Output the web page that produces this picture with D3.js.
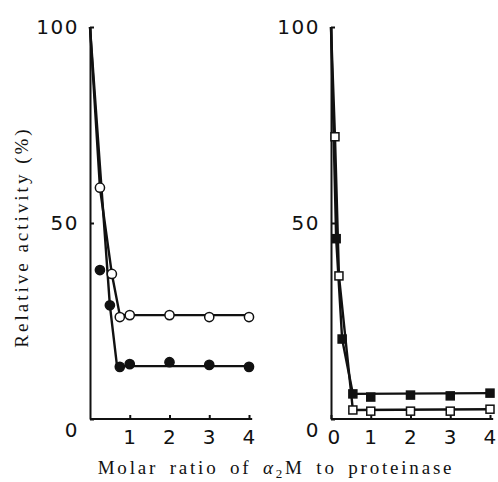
<!DOCTYPE html>
<meta charset="utf-8">
<style>
body { margin: 0; background: #fff; }
.axis .tick text { font: 20px "DejaVu Sans", Arial, sans-serif; letter-spacing: 1.5px; fill: #111; }
.axis path, .axis line { stroke: #111; stroke-width: 2; }
.title { font-family: "Liberation Serif", "Times New Roman", serif; font-size: 19px; fill: #111; }
</style>
<svg width="498" height="482"></svg>
<script src="https://d3js.org/d3.v7.min.js"></script>
<script>
// values (relative activity %, molar ratio a2M : proteinase)
var leftOpenX = [0.25, 0.55, 0.75, 1, 2, 3, 4];
var leftOpenY = [59, 37, 26, 26.5, 26.5, 26, 26];
var leftFilledX = [0.25, 0.5, 0.75, 1, 2, 3, 4];
var leftFilledY = [38, 29, 13.3, 14, 14.5, 13.8, 13.3];
var rightOpenX = [0.1, 0.2, 0.55, 1, 2, 3, 4];
var rightOpenY = [72, 36.5, 2.3, 2, 2, 2, 2.5];
var rightFilledX = [0.13, 0.28, 0.55, 1, 2, 3, 4];
var rightFilledY = [46, 20.4, 6.4, 5.6, 6.1, 5.9, 6.6];

// hand drawn curves of the original
var leftOpenLine = [[0, 100], [0.25, 59], [0.55, 37], [0.75, 26.5], [4, 26.5]];
var leftFilledLine = [[0, 100], [0.5, 29], [0.68, 13.5], [4, 13.5]];
var rightOpenLine = [[0, 100], [0.1, 72], [0.2, 36.5], [0.55, 2.3], [4, 2.5]];
var rightFilledLine = [[0, 100], [0.13, 46], [0.28, 20.4], [0.55, 6.4], [4, 6.6]];

var yTicks = [0, 50, 100];
var leftXTicks = [1, 2, 3, 4];
var rightXTicks = [0, 1, 2, 3, 4];

var svg = d3.select("svg");

var y = d3.scaleLinear().domain([0, 100]).range([419, 27]);

function zip(xs, ys) { return xs.map(function(v, i) { return [v, ys[i]]; }); }

function panel(x0, xTicks, openPts, filledPts, openLine, filledLine, shape) {
  var x = d3.scaleLinear().domain([0, 4]).range([x0, x0 + 159]);
  var g = svg.append("g");

  var yAxis = g.append("g").attr("class", "axis")
    .attr("transform", "translate(" + x(0) + ",0)")
    .call(d3.axisLeft(y).tickValues(yTicks).tickFormat(d3.format("d"))
      .tickSizeInner(-4).tickSizeOuter(0).tickPadding(11));
  yAxis.selectAll(".tick text").filter(function(d) { return d === 0; }).attr("dy", "0.85em");

  var xAxis = g.append("g").attr("class", "axis")
    .attr("transform", "translate(0," + y(0) + ")")
    .call(d3.axisBottom(x).tickValues(xTicks).tickFormat(d3.format("d"))
      .tickSizeInner(-4).tickSizeOuter(0).tickPadding(11));
  xAxis.select(".domain").attr("d", "M" + x(0) + ",0H" + x(4.08));
  xAxis.selectAll(".tick text").filter(function(d) { return d === 0; }).attr("dx", 3);

  var line = d3.line().x(function(d) { return x(d[0]); }).y(function(d) { return y(d[1]); });
  [openLine, filledLine].forEach(function(l) {
    g.append("path").attr("d", line(l))
      .attr("fill", "none").attr("stroke", "#111").attr("stroke-width", 2.4)
      .attr("stroke-linejoin", "round");
  });

  function marks(pts, fill) {
    if (shape === "circle") {
      g.selectAll(null).data(pts).enter().append("circle")
        .attr("cx", function(d) { return x(d[0]); })
        .attr("cy", function(d) { return y(d[1]); })
        .attr("r", 4.6)
        .attr("fill", fill).attr("stroke", "#111").attr("stroke-width", 1.5);
    } else {
      g.selectAll(null).data(pts).enter().append("rect")
        .attr("x", function(d) { return x(d[0]) - 4; })
        .attr("y", function(d) { return y(d[1]) - 4; })
        .attr("width", 8).attr("height", 8)
        .attr("fill", fill).attr("stroke", "#111").attr("stroke-width", 1.5);
    }
  }
  marks(openPts, "#fff");
  marks(filledPts, "#111");
}

panel(90, leftXTicks, zip(leftOpenX, leftOpenY), zip(leftFilledX, leftFilledY),
  leftOpenLine, leftFilledLine, "circle");
panel(331, rightXTicks, zip(rightOpenX, rightOpenY), zip(rightFilledX, rightFilledY),
  rightOpenLine, rightFilledLine, "square");

svg.append("text").attr("class", "title")
  .attr("transform", "translate(28,237) rotate(-90)")
  .attr("text-anchor", "middle").style("letter-spacing", "3px")
  .text("Relative activity (%)");

var xt = svg.append("text").attr("class", "title")
  .attr("x", 276).attr("y", 474).attr("text-anchor", "middle")
  .style("letter-spacing", "2.8px").style("word-spacing", "4px");
xt.append("tspan").text("Molar ratio of ");
xt.append("tspan").style("font-style", "italic").text("α");
xt.append("tspan").attr("font-size", "13px").attr("dy", 4).text("2");
xt.append("tspan").attr("dy", -4).text("M to proteinase");
</script>
